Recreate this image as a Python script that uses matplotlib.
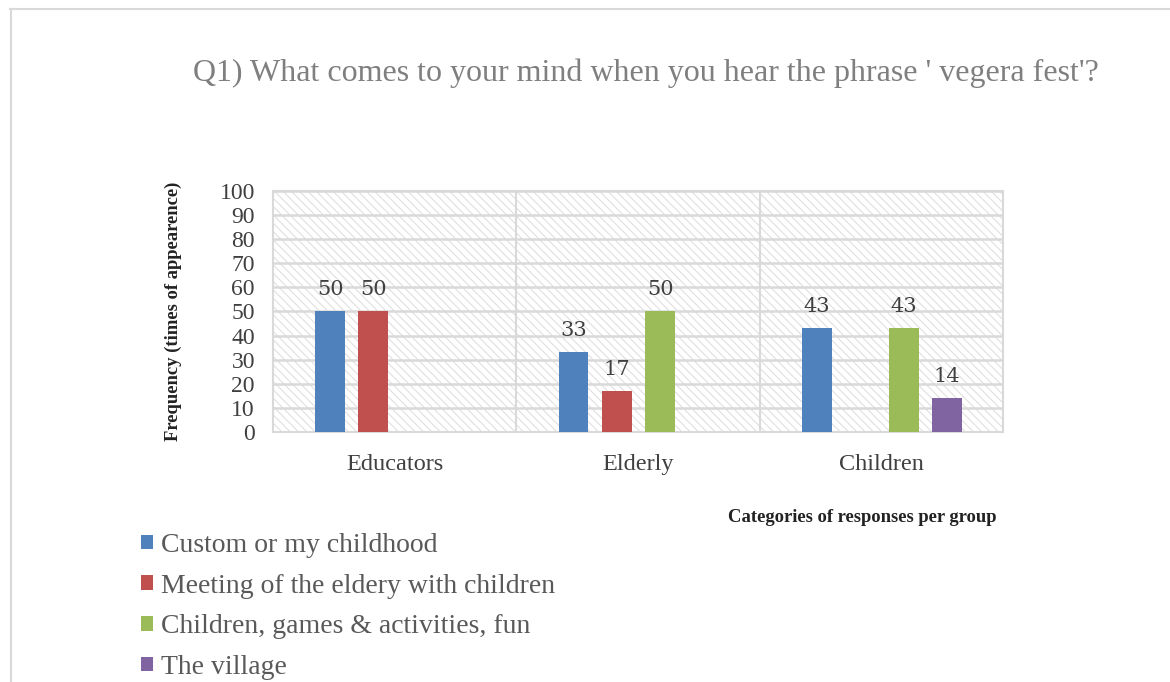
import numpy as np
import matplotlib as mpl
mpl.use("Agg")
import matplotlib.pyplot as plt
from matplotlib.patches import Rectangle, Patch
from matplotlib.lines import Line2D

GROUPS = ["Educators", "Elderly", "Children"]
SERIES = ["Custom or my childhood", "Meeting of the eldery with children",
          "Children, games & activities, fun", "The village"]
CUSTOM = [50, 33, 43]
MEETING = [50, 17, np.nan]
GAMES = [np.nan, 50, 43]
VILLAGE = [np.nan, np.nan, 14]
COLORS = ["#4F81BD", "#C0504D", "#9BBB59", "#8064A2"]
YTICKS = list(range(0, 101, 10))

mpl.rcParams.update({"font.family": "Liberation Serif", "hatch.linewidth": 0.7})

fig = plt.figure(figsize=(11.7, 6.82), dpi=100)
ax = fig.add_axes([0.2333, 0.3666, 0.624, 0.3534])

# frame lines around the whole chart (as in the screenshot)
fig.add_artist(Line2D([10 / 1170, 1.0], [1 - 9 / 682, 1 - 9 / 682], transform=fig.transFigure, color="#d9d9d9", lw=1.5))
fig.add_artist(Line2D([11 / 1170, 11 / 1170], [0, 1 - 9 / 682], transform=fig.transFigure, color="#d9d9d9", lw=1.5))

ax.set_facecolor("white")
ax.add_patch(Rectangle((0, 0), 1, 1, transform=ax.transAxes, facecolor="white",
                       edgecolor="#dcdcdc", hatch="\\\\\\\\", lw=0, zorder=0))

x = np.arange(len(GROUPS))
offsets = [-0.265, -0.088, 0.092, 0.268]
width = 0.123
for vals, off, col, name in zip([CUSTOM, MEETING, GAMES, VILLAGE], offsets, COLORS, SERIES):
    bars = ax.bar(x + off, vals, width, color=col, label=name, zorder=3)
    for b, v in zip(bars, vals):
        if not np.isnan(v):
            ax.text(b.get_x() + b.get_width() / 2, v + 5, f"{v:.0f}", ha="center", va="bottom",
                    fontsize=15, color="#404040", family="DejaVu Serif", zorder=4)

ax.set_xlim(-0.5, 2.5)
ax.set_ylim(0, 100)
ax.set_yticks(YTICKS)
ax.set_xticks(x)
ax.set_xticklabels(GROUPS, fontsize=17.5, color="#404040")
ax.tick_params(axis="y", length=0, pad=13, labelsize=17, labelcolor="#404040")
ax.tick_params(axis="x", length=0, pad=16)
ax.yaxis.grid(True, color="#d9d9d9", lw=1.8, zorder=1)
for xv in [0.5, 1.5]:
    ax.axvline(xv, color="#d9d9d9", lw=1.5, zorder=1)
for s in ax.spines.values():
    s.set_color("#d9d9d9")
    s.set_linewidth(1.5)

ax.set_ylabel("Frequency (times of appearence)", fontsize=13.4, fontweight="bold", color="#222222", labelpad=27)
fig.text(862 / 1170, 1 - 517 / 682, "Categories of responses per group", ha="center", va="center",
         fontsize=13.4, fontweight="bold", color="#222222")
fig.text(646 / 1170, 1 - 73 / 682, "Q1) What comes to your mind when you hear the phrase ' vegera fest'?",
         ha="center", va="center", fontsize=23, color="#7f7f7f")

handles = [Patch(facecolor=c, edgecolor="none") for c in COLORS]
fig.legend(handles, SERIES, loc="upper left", bbox_to_anchor=(130 / 1170, 1 - 522 / 682), frameon=False,
           fontsize=20, labelcolor="#595959", handlelength=0.43, handleheight=0.43, handletextpad=0.3,
           labelspacing=0.56, borderaxespad=0)

fig.savefig("out.png", dpi=100)
